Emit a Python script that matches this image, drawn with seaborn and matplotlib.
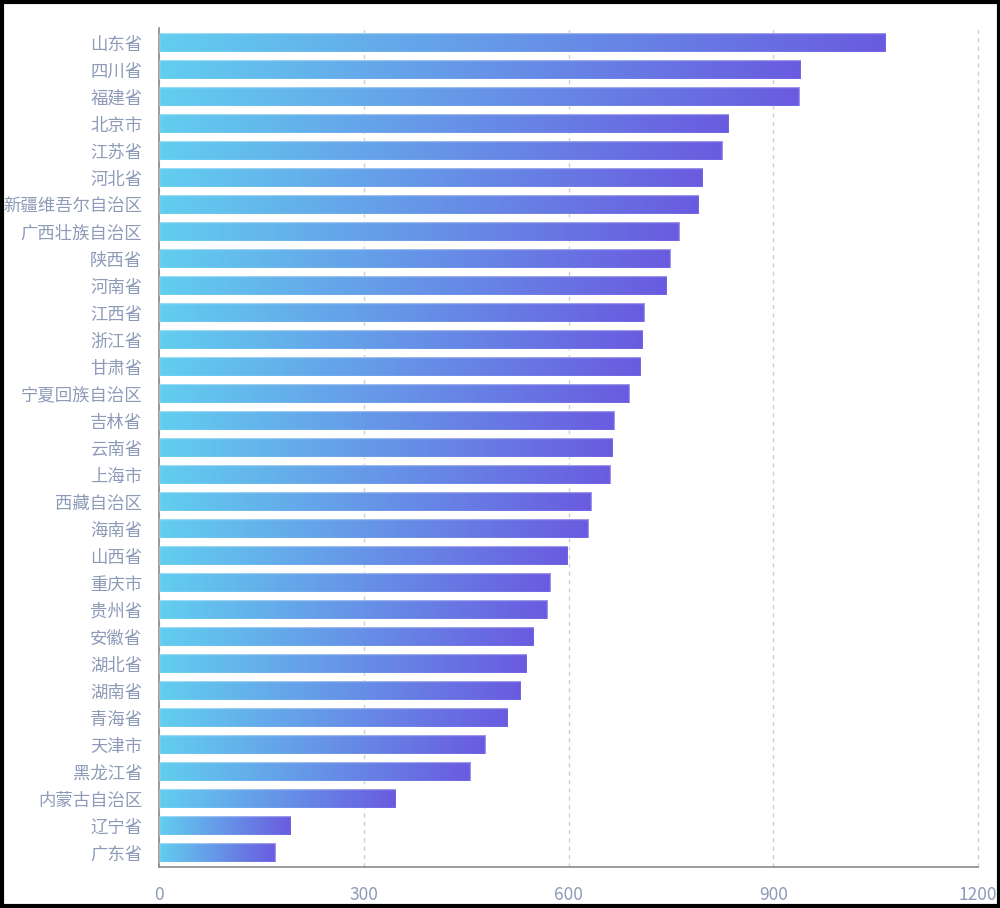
import numpy as np
import pandas as pd
import matplotlib
matplotlib.use('Agg')
import matplotlib.pyplot as plt
import seaborn as sns
from matplotlib.colors import LinearSegmentedColormap
from matplotlib.patches import Rectangle

sns.set_style('white')
plt.rcParams['font.family'] = ['Noto Sans CJK SC', 'DejaVu Sans']

# Data
provinces = ['山东省', '四川省', '福建省', '北京市', '江苏省', '河北省', '新疆维吾尔自治区',
             '广西壮族自治区', '陕西省', '河南省', '江西省', '浙江省', '甘肃省', '宁夏回族自治区',
             '吉林省', '云南省', '上海市', '西藏自治区', '海南省', '山西省', '重庆市', '贵州省',
             '安徽省', '湖北省', '湖南省', '青海省', '天津市', '黑龙江省', '内蒙古自治区',
             '辽宁省', '广东省']
values = [1065, 940, 938, 835, 825, 797, 791, 762, 749, 744, 711, 709, 706, 689,
          667, 665, 661, 633, 629, 599, 573, 569, 549, 539, 530, 511, 478, 456, 347,
          193, 170]
x_ticks = [0, 300, 600, 900, 1200]

df = pd.DataFrame({'province': provinces, 'value': values})

tick_color = '#8D9AB8'
axis_color = '#8A8A8A'
grad = LinearSegmentedColormap.from_list('bar_grad', ['#62CEEF', '#6A5BE0'])

fig = plt.figure(figsize=(10, 9.08), dpi=100)
ax = fig.add_axes([0.159, 0.0452, 0.819, 0.9238])

sns.barplot(data=df, x='value', y='province', orient='h', width=0.7,
            color='#6A5BE0', ax=ax)

# Fill every bar with a left-to-right gradient spanning its own length
gradient = np.linspace(0, 1, 256).reshape(1, -1)
for patch in ax.patches:
    x0, y0 = patch.get_x(), patch.get_y()
    w, h = patch.get_width(), patch.get_height()
    ax.imshow(gradient, cmap=grad, aspect='auto', interpolation='bicubic',
              extent=[x0, x0 + w, y0 + h, y0], zorder=2)
    patch.set_facecolor('none')
    patch.set_edgecolor((1, 1, 1, 0.35))
    patch.set_linewidth(1)
    patch.set_zorder(3)

ax.set_xlim(0, 1200)
ax.set_ylim(len(provinces) - 0.48, -0.54)
ax.set_xticks(x_ticks)
ax.set_xlabel('')
ax.set_ylabel('')

ax.grid(axis='x', linestyle=(0, (3, 3)), color='#CFCFCF', linewidth=1)
ax.grid(axis='y', visible=False)
ax.set_axisbelow(True)
# keep the 1200 gridline visible at the right edge
for line in ax.get_xgridlines():
    line.set_clip_on(False)

for side in ['top', 'right']:
    ax.spines[side].set_visible(False)
for side in ['left', 'bottom']:
    ax.spines[side].set_color(axis_color)
    ax.spines[side].set_linewidth(1.2)

ax.tick_params(axis='y', length=0, pad=12, labelsize=12.5, labelcolor=tick_color)
ax.tick_params(axis='x', length=0, pad=14, labelsize=12.5, labelcolor=tick_color)

# Black frame around the whole picture
fig.patches.append(Rectangle((0.0015, 0.0017), 0.997, 0.9966, transform=fig.transFigure,
                             fill=False, edgecolor='black', linewidth=3))

fig.savefig('out.png', dpi=100)
